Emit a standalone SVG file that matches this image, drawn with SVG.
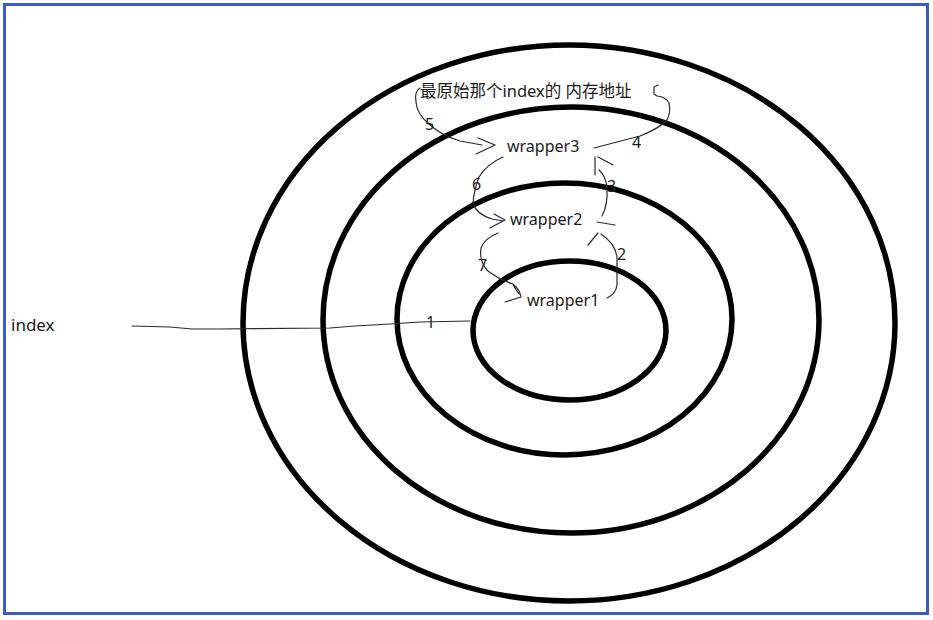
<svg xmlns="http://www.w3.org/2000/svg" width="933" height="620" viewBox="0 0 933 620">
<style>
.ring{fill:none;stroke:#000;stroke-width:5.5}
.lbl{font-family:"Noto Sans","Noto Sans CJK SC",sans-serif;fill:#1a1a1a}
.num{font-family:"Noto Sans",sans-serif;font-size:16px;fill:#1a1a1a}
.c{fill:none;stroke:#2a2a2a;stroke-width:1.2;stroke-linecap:round;stroke-linejoin:round}
</style>
<rect x="0" y="0" width="933" height="620" fill="#fff"/>
<rect x="4.5" y="4.5" width="923" height="609" fill="none" stroke="#3a5bd0" stroke-width="3"/>
<g id="rings">
<ellipse id="ring-outer" class="ring" cx="569" cy="323" rx="326" ry="278"/>
<ellipse id="ring-wrapper3" class="ring" cx="571" cy="320" rx="248" ry="213"/>
<ellipse id="ring-wrapper2" class="ring" cx="564.5" cy="319" rx="167.5" ry="136"/>
<ellipse id="ring-wrapper1" class="ring" cx="569.5" cy="330.5" rx="96.5" ry="69.5"/>
</g>
<g id="n-index"><text class="lbl" x="11" y="331" font-size="17">index</text></g>
<g id="n-orig"><text class="lbl" x="420" y="97" font-size="16.5">最原始那个index的 内存地址</text></g>
<g id="n-w3"><text class="lbl" x="507" y="152" font-size="16">wrapper3</text></g>
<g id="n-w2"><text class="lbl" x="510" y="225" font-size="16">wrapper2</text></g>
<g id="n-w1"><text class="lbl" x="527" y="306" font-size="16">wrapper1</text></g>
<g id="connectors">
<polyline class="c" points="132,326 170,327 192,329 220,329 330,328 355,326 390,324 420,322 470,321"/>
<text class="num" x="426" y="328">1</text>
<path class="c" d="M607,298 Q616,294 617,285 L617,258 Q616,244 601,234"/>
<path class="c" d="M588,245 L598,233"/>
<text class="num" x="617" y="260">2</text>
<path class="c" d="M602,216 Q608,205 607,188 Q606,176 599,170"/>
<path class="c" d="M595,157 L595,175 M598,157 L613,165 M597,222 L615,225"/>
<text class="num" x="607" y="192">3</text>
<path class="c" d="M594,148 L640,136 Q660,128 667,120 Q671,112 669,103 Q666,97 657,96 L654,94 L654,87 L658,85"/>
<text class="num" x="632" y="148">4</text>
<path class="c" d="M420,88 Q414,92 416,102 Q417,114 428,123 Q440,135 460,141 L482,145 M478,138 L495,145 L476,154"/>
<text class="num" x="425" y="130">5</text>
<path class="c" d="M503,157 Q487,164 479,177 Q474,190 473,203 Q476,214 492,219 L503,221 M494,214 L505,220 L490,228"/>
<text class="num" x="472" y="190">6</text>
<path class="c" d="M498,233 Q485,238 481,248 Q479,262 488,271 Q500,280 513,284 Q520,290 521,297 L505,302 M513,285 L519,294"/>
<text class="num" x="478" y="271">7</text>
</g>
</svg>
